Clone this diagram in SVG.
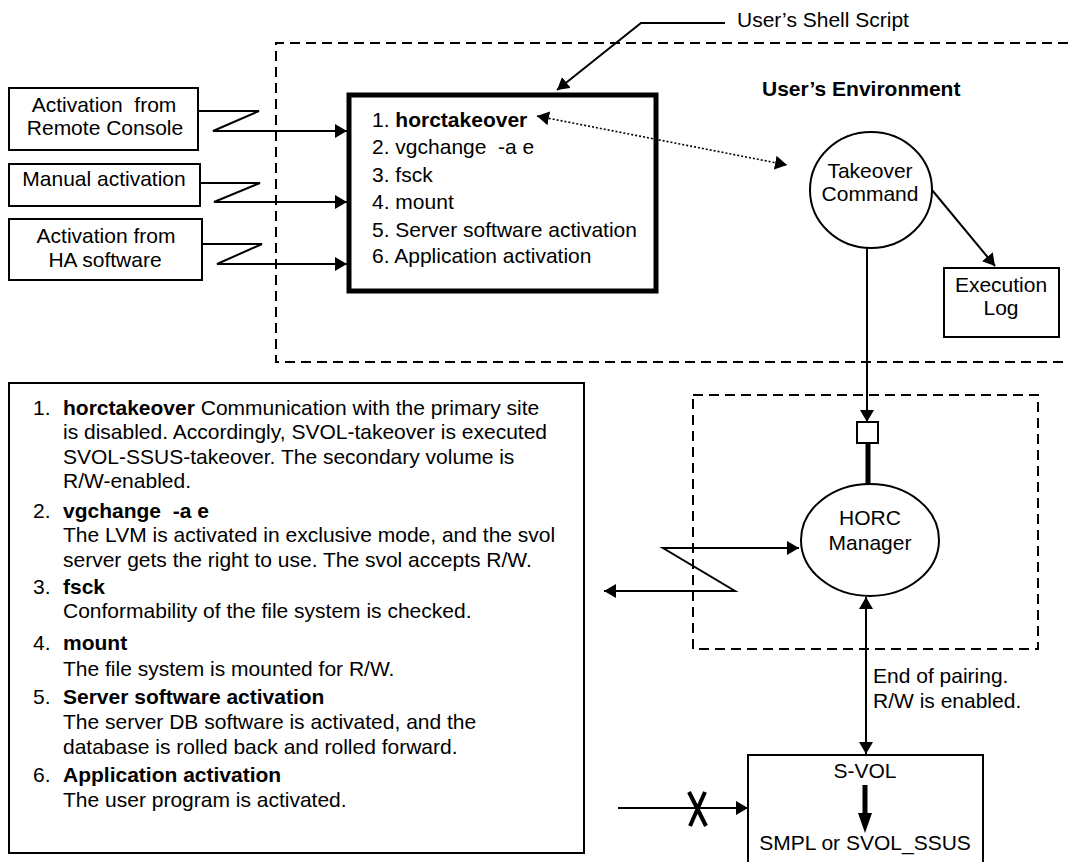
<svg xmlns="http://www.w3.org/2000/svg" width="1068" height="862" viewBox="0 0 1068 862">
<style>
text{font-family:"Liberation Sans",Arial,sans-serif;font-size:21px;fill:#000;white-space:pre}
.c{text-anchor:middle}
.b{font-weight:bold}
.d{font-size:21px}
.box{fill:#fff;stroke:#000;stroke-width:2}
.ln{fill:none;stroke:#000;stroke-width:2}
.dash{fill:none;stroke:#000;stroke-width:2;stroke-dasharray:10 6}
</style>
<defs>
<marker id="ah" markerUnits="userSpaceOnUse" markerWidth="13" markerHeight="14" refX="12" refY="7" orient="auto-start-reverse" viewBox="0 0 13 14">
<path d="M0,0 L12,7 L0,14 z" fill="#000"/>
</marker>
</defs>
<rect width="1068" height="862" fill="#fff"/>

<g id="environment">
<path class="dash" d="M1068,43 H276 V362 H1068"/>
<text class="b" x="762" y="96">User’s Environment</text>
</g>
<g id="horc-area">
<rect class="dash" x="693" y="395" width="345" height="254"/>
</g>

<g id="connectors">
<path class="ln" d="M193,111 H259 L213,131 H347" marker-end="url(#ah)"/>
<path class="ln" d="M195,183 H260 L214,202 H347" marker-end="url(#ah)"/>
<path class="ln" d="M197,244 H262 L217,264 H347" marker-end="url(#ah)"/>
<path class="ln" d="M725,23 H641 L557,90" marker-end="url(#ah)"/>
<path fill="none" stroke="#000" stroke-width="1.6" stroke-dasharray="2 2" d="M537,116 L787,165" marker-start="url(#ah)" marker-end="url(#ah)"/>
<path class="ln" d="M932,190 L995,266" marker-end="url(#ah)"/>
<path class="ln" d="M867,248 V422" marker-end="url(#ah)"/>
<path fill="none" stroke="#000" stroke-width="5" d="M868,443 V485"/>
<path class="ln" d="M604,591 H735 L663,548 H799" marker-start="url(#ah)" marker-end="url(#ah)"/>
<path class="ln" d="M866,597 V754" marker-start="url(#ah)" marker-end="url(#ah)"/>
<path class="ln" d="M618,808 H748" marker-end="url(#ah)"/>
<path fill="none" stroke="#000" stroke-width="4" d="M689,792 L706,826 M705,792 L690,826"/>
</g>

<g id="shell-script-label">
<text x="737" y="27">User’s Shell Script</text>
</g>

<g id="remote-console">
<rect class="box" x="9" y="88" width="189" height="62"/>
<text class="c" x="104" y="112">Activation  from</text>
<text class="c" x="105" y="135">Remote Console</text>
</g>
<g id="manual">
<rect class="box" x="9" y="164" width="191" height="42"/>
<text class="c" x="104" y="186">Manual activation</text>
</g>
<g id="ha-software">
<rect class="box" x="9" y="219" width="193" height="61"/>
<text class="c" x="106" y="243">Activation from</text>
<text class="c" x="105" y="267">HA software</text>
</g>

<g id="script-box">
<rect x="349" y="95" width="307" height="196" fill="none" stroke="#000" stroke-width="5"/>
<text x="372" y="127">1. <tspan class="b">horctakeover</tspan></text>
<text x="372" y="154">2. vgchange  -a e</text>
<text x="372" y="182">3. fsck</text>
<text x="372" y="209">4. mount</text>
<text x="372" y="237">5. Server software activation</text>
<text x="372" y="263">6. Application activation</text>
</g>

<g id="takeover-command">
<ellipse cx="871" cy="190" rx="61" ry="58" class="box"/>
<text class="c" x="870" y="178">Takeover</text>
<text class="c" x="870" y="201">Command</text>
</g>

<g id="execution-log">
<rect class="box" x="944" y="268" width="115" height="69"/>
<text class="c" x="1001" y="292">Execution</text>
<text class="c" x="1001" y="315">Log</text>
</g>

<g id="port">
<rect class="box" x="857" y="422" width="21" height="21"/>
</g>

<g id="horc-manager">
<ellipse cx="870" cy="540" rx="69" ry="56" class="box"/>
<text class="c" x="870" y="525">HORC</text>
<text class="c" x="870" y="550">Manager</text>
</g>

<g id="pairing-label">
<text x="873" y="683">End of pairing.</text>
<text x="873" y="708">R/W is enabled.</text>
</g>

<g id="svol">
<rect class="box" x="748" y="755" width="235" height="115"/>
<text class="c" x="865" y="778">S-VOL</text>
<path d="M865,785 V815" stroke="#000" stroke-width="5"/>
<path d="M858,813 L872,813 L865,833 z" fill="#000"/>
<text class="c" x="865" y="850">SMPL or SVOL_SSUS</text>
</g>

<g id="description">
<rect class="box" x="9" y="383" width="575" height="470"/>
<text class="d" x="33" y="415">1.</text>
<text class="d" x="63" y="415"><tspan class="b">horctakeover</tspan> Communication with the primary site</text>
<text class="d" x="63" y="439">is disabled. Accordingly, SVOL-takeover is executed</text>
<text class="d" x="63" y="464">SVOL-SSUS-takeover. The secondary volume is</text>
<text class="d" x="63" y="488">R/W-enabled.</text>
<text class="d" x="33" y="518">2.</text>
<text class="d b" x="63" y="518">vgchange  -a e</text>
<text class="d" x="63" y="542">The LVM is activated in exclusive mode, and the svol</text>
<text class="d" x="63" y="567">server gets the right to use. The svol accepts R/W.</text>
<text class="d" x="33" y="594">3.</text>
<text class="d b" x="63" y="594">fsck</text>
<text class="d" x="63" y="618">Conformability of the file system is checked.</text>
<text class="d" x="33" y="650">4.</text>
<text class="d b" x="63" y="650">mount</text>
<text class="d" x="63" y="676">The file system is mounted for R/W.</text>
<text class="d" x="33" y="704">5.</text>
<text class="d b" x="63" y="704">Server software activation</text>
<text class="d" x="63" y="729">The server DB software is activated, and the</text>
<text class="d" x="63" y="754">database is rolled back and rolled forward.</text>
<text class="d" x="33" y="782">6.</text>
<text class="d b" x="63" y="782">Application activation</text>
<text class="d" x="63" y="807">The user program is activated.</text>
</g>
</svg>
